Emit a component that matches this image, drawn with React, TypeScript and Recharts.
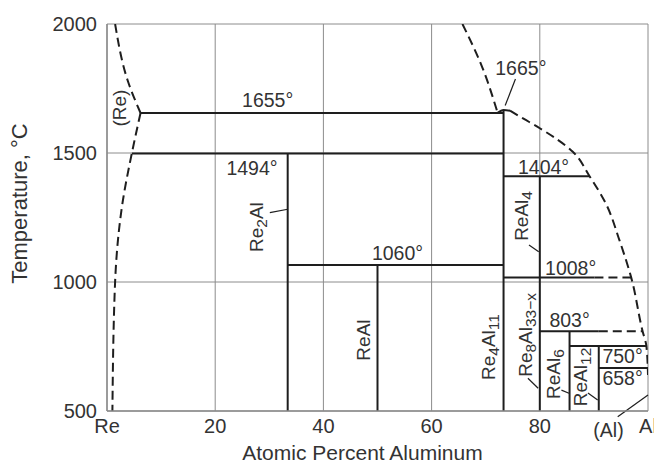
import React from 'react';
import {
  ComposedChart,
  Line,
  XAxis,
  YAxis,
  CartesianGrid,
  ReferenceLine,
  ReferenceDot,
} from 'recharts';

// ---------- axes ----------
const xTicks = [0, 20, 40, 60, 80, 100];
const yTicks = [500, 1000, 1500, 2000];
const xTickNames: Record<number, string> = { 0: 'Re', 100: 'Al' };

// ---------- dashed phase boundaries (x = at.% Al, T = °C) ----------
const reSolvusUpper = [
  { x: 1.5, T: 2000 },
  { x: 3.9, T: 1776 },
  { x: 6.2, T: 1655 },
];
const reSolvusLower = [
  { x: 6.2, T: 1655 },
  { x: 4.6, T: 1500 },
  { x: 2.9, T: 1311 },
  { x: 1.5, T: 1001 },
  { x: 1.0, T: 500 },
];
const liquidusLeft = [
  { x: 65.7, T: 2000 },
  { x: 69.2, T: 1841 },
  { x: 72.2, T: 1656 },
];
const liquidusPeak = [
  { x: 72.2, T: 1656 },
  { x: 73.3, T: 1667 },
  { x: 74.5, T: 1664 },
];
const liquidusRight = [
  { x: 74.5, T: 1664 },
  { x: 76.9, T: 1634 },
  { x: 80.0, T: 1596 },
  { x: 86.1, T: 1505 },
  { x: 89.2, T: 1410 },
  { x: 92.3, T: 1300 },
  { x: 94.7, T: 1163 },
  { x: 96.9, T: 1017 },
  { x: 99.0, T: 809 },
  { x: 99.7, T: 752 },
  { x: 100, T: 640 },
];

// ---------- solid isotherms ----------
const isotherms = [
  { T: 1655, from: 6.2, to: 73.3 },
  { T: 1498, from: 4.6, to: 73.3 },
  { T: 1410, from: 73.3, to: 89.2 },
  { T: 1066, from: 33.4, to: 73.3 },
  { T: 1017, from: 73.3, to: 90.1 },
  { T: 809, from: 80, to: 90.9 },
  { T: 752, from: 85.5, to: 99.7 },
  { T: 667, from: 90.9, to: 100 },
];
const dashedIsotherms = [
  { T: 1017, from: 90.1, to: 96.9 },
  { T: 809, from: 90.9, to: 99.0 },
];

// ---------- compound lines ----------
const compounds = [
  { x: 33.4, top: 1498, bottom: 500 },
  { x: 50, top: 1066, bottom: 500 },
  { x: 73.3, top: 1667, bottom: 500 },
  { x: 80, top: 1410, bottom: 500 },
  { x: 85.5, top: 809, bottom: 500 },
  { x: 90.9, top: 752, bottom: 500 },
];

// ---------- leader lines ----------
const leaders = [
  { x1: 75.5, T1: 1787, x2: 73.6, T2: 1684 },
  { x1: 30.1, T1: 1269, x2: 33.4, T2: 1282 },
  { x1: 78.0, T1: 1143, x2: 79.8, T2: 1117 },
  { x1: 77.8, T1: 627, x2: 79.7, T2: 588 },
  { x1: 84.0, T1: 581, x2: 85.4, T2: 569 },
  { x1: 88.9, T1: 570, x2: 90.7, T2: 543 },
  { x1: 94.4, T1: 478, x2: 100, T2: 562 },
];

// ---------- text ----------
const tempLabels = ['1655°', '1665°', '1494°', '1404°', '1060°', '1008°', '803°', '750°', '658°'];
const tempAnchors = [
  { x: 29.7, T: 1705 },
  { x: 76.5, T: 1829 },
  { x: 26.8, T: 1442 },
  { x: 80.7, T: 1447 },
  { x: 53.7, T: 1112 },
  { x: 85.7, T: 1054 },
  { x: 85.5, T: 853 },
  { x: 95.3, T: 713 },
  { x: 95.3, T: 628 },
];

// phase names: [main, sub, main, sub]
const phaseNames: string[][] = [
  ['Re', '2', 'Al', ''],
  ['ReAl', '', '', ''],
  ['ReAl', '4', '', ''],
  ['Re', '4', 'Al', '11'],
  ['Re', '8', 'Al', '33\u2212x'],
  ['ReAl', '6', '', ''],
  ['ReAl', '12', '', ''],
  ['(Re)', '', '', ''],
];
const phaseAnchors = [
  { x: 27.6, T: 1213 },
  { x: 47.3, T: 775 },
  { x: 76.6, T: 1256 },
  { x: 70.4, T: 748 },
  { x: 77.2, T: 795 },
  { x: 82.4, T: 643 },
  { x: 87.4, T: 632 },
  { x: 2.2, T: 1674 },
];
const alLabel = '(Al)';
const alAnchor = { x: 92.7, T: 426 };

const xTitle = 'Atomic Percent Aluminum';
const yTitle = 'Temperature, °C';

const FONT = '"Liberation Sans", Arial, Helvetica, sans-serif';
const TEXT = '#333';
const INK = '#1e1e1e';
const GRID = '#8c8c8c';

export default function App() {
  const rotatedText = (parts: string[]) => (p: any) => (
    <text
      x={p.cx}
      y={p.cy}
      transform={`rotate(-90 ${p.cx} ${p.cy})`}
      textAnchor="middle"
      dominantBaseline="central"
      fontFamily={FONT}
      fontSize={19}
      fill={TEXT}
    >
      <tspan>{parts[0]}</tspan>
      {parts[1] ? (
        <tspan dy={5} fontSize={15.5}>
          {parts[1]}
        </tspan>
      ) : null}
      {parts[2] ? <tspan dy={-5}>{parts[2]}</tspan> : null}
      {parts[3] ? (
        <tspan dy={5} fontSize={15.5}>
          {parts[3]}
        </tspan>
      ) : null}
    </text>
  );

  const plainText = (s: string) => (p: any) => (
    <text
      x={p.cx}
      y={p.cy}
      textAnchor="middle"
      dominantBaseline="central"
      fontFamily={FONT}
      fontSize={19.5}
      fill={TEXT}
    >
      {s}
    </text>
  );

  return (
    <div style={{ position: 'absolute', left: 0, top: 0, width: 654, height: 466, background: '#fff' }}>
      <ComposedChart width={654} height={466} margin={{ top: 24, right: 6, bottom: 0, left: 0 }}>
        <CartesianGrid stroke={GRID} strokeWidth={1} />
        <XAxis
          type="number"
          dataKey="x"
          domain={[0, 100]}
          allowDataOverflow
          ticks={xTicks}
          tickFormatter={(v: number) => xTickNames[v] ?? String(v)}
          tickLine={false}
          axisLine={{ stroke: GRID, strokeWidth: 1.5 }}
          tick={{ fontFamily: FONT, fontSize: 20, fill: TEXT }}
          height={55}
          interval={0}
          label={(props: any) => {
            const vb = props.viewBox;
            return (
              <text
                x={vb.x + vb.width / 2 - 15}
                y={vb.y + 41}
                textAnchor="middle"
                dominantBaseline="central"
                fontFamily={FONT}
                fontSize={21}
                fill={TEXT}
              >
                {xTitle}
              </text>
            );
          }}
        />
        <YAxis
          type="number"
          domain={[500, 2000]}
          allowDataOverflow
          ticks={yTicks}
          tickLine={false}
          tickMargin={4}
          axisLine={{ stroke: GRID, strokeWidth: 1.5 }}
          tick={{ fontFamily: FONT, fontSize: 20, fill: TEXT }}
          width={107}
          interval={0}
          label={(props: any) => {
            const vb = props.viewBox;
            const cx = 19;
            const cy = vb.y + vb.height / 2 - 14;
            return (
              <text
                x={cx}
                y={cy}
                transform={`rotate(-90 ${cx} ${cy})`}
                textAnchor="middle"
                dominantBaseline="central"
                fontFamily={FONT}
                fontSize={22}
                fill={TEXT}
              >
                {yTitle}
              </text>
            );
          }}
        />

        {[reSolvusUpper, reSolvusLower, liquidusLeft, liquidusRight].map((d, i) => (
          <Line
            key={'dash' + i}
            data={d}
            dataKey="T"
            type="monotoneY"
            stroke={INK}
            strokeWidth={2}
            strokeDasharray="9 5"
            dot={false}
            activeDot={false}
            isAnimationActive={false}
          />
        ))}
        <Line
          data={liquidusPeak}
          dataKey="T"
          type="monotone"
          stroke={INK}
          strokeWidth={2}
          dot={false}
          activeDot={false}
          isAnimationActive={false}
        />

        {isotherms.map((s, i) => (
          <Line
            key={'iso' + i}
            data={[
              { x: s.from, T: s.T },
              { x: s.to, T: s.T },
            ]}
            dataKey="T"
            type="linear"
            stroke={INK}
            strokeWidth={2}
            dot={false}
            activeDot={false}
            isAnimationActive={false}
          />
        ))}
        {dashedIsotherms.map((s, i) => (
          <Line
            key={'diso' + i}
            data={[
              { x: s.from, T: s.T },
              { x: s.to, T: s.T },
            ]}
            dataKey="T"
            type="linear"
            stroke={INK}
            strokeWidth={2}
            strokeDasharray="9 5"
            dot={false}
            activeDot={false}
            isAnimationActive={false}
          />
        ))}
        {compounds.map((c, i) => (
          <Line
            key={'cmp' + i}
            data={[
              { x: c.x, T: c.top },
              { x: c.x, T: c.bottom },
            ]}
            dataKey="T"
            type="linear"
            stroke={INK}
            strokeWidth={2}
            dot={false}
            activeDot={false}
            isAnimationActive={false}
          />
        ))}

        {leaders.map((l, i) => (
          <ReferenceLine
            key={'lead' + i}
            segment={[
              { x: l.x1, y: l.T1 },
              { x: l.x2, y: l.T2 },
            ]}
            stroke={INK}
            strokeWidth={1.2}
            ifOverflow="visible"
          />
        ))}

        {tempLabels.map((s, i) => (
          <ReferenceDot
            key={'tl' + i}
            x={tempAnchors[i].x}
            y={tempAnchors[i].T}
            r={0}
            ifOverflow="visible"
            shape={plainText(s)}
          />
        ))}
        {phaseNames.map((parts, i) => (
          <ReferenceDot
            key={'pn' + i}
            x={phaseAnchors[i].x}
            y={phaseAnchors[i].T}
            r={0}
            ifOverflow="visible"
            shape={rotatedText(parts)}
          />
        ))}
        <ReferenceDot
          x={alAnchor.x}
          y={alAnchor.T}
          r={0}
          ifOverflow="visible"
          shape={plainText(alLabel)}
        />
      </ComposedChart>
    </div>
  );
}
